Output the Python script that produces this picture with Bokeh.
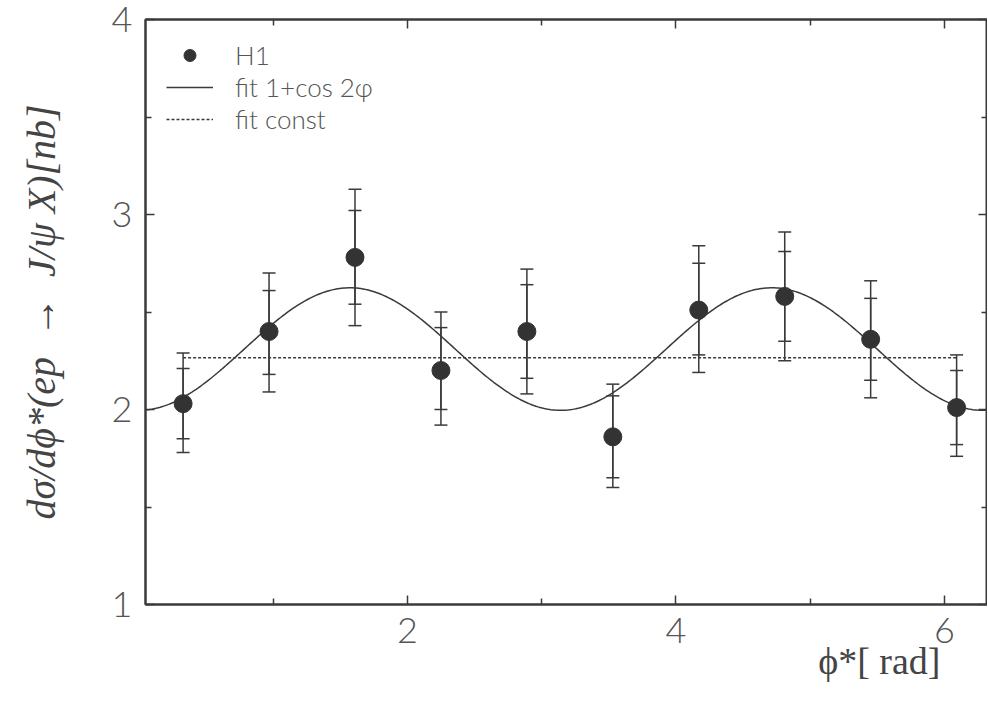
import numpy as np
from bokeh.plotting import figure
from bokeh.models import (ColumnDataSource, Whisker, TeeHead, FixedTicker, LinearAxis,
                          Title, Legend, LegendItem, Range1d, CustomJSTickFormatter)
from bokeh.embed import file_html
from bokeh.resources import INLINE

# ---- data ----
phi = [0.33, 0.97, 1.61, 2.25, 2.89, 3.53, 4.17, 4.81, 5.45, 6.09]
xsec = [2.03, 2.40, 2.78, 2.20, 2.40, 1.86, 2.51, 2.58, 2.36, 2.01]
stat_hi = [2.21, 2.61, 3.02, 2.42, 2.64, 2.07, 2.75, 2.81, 2.57, 2.20]
stat_lo = [1.85, 2.18, 2.54, 2.00, 2.16, 1.65, 2.28, 2.35, 2.15, 1.82]
tot_hi = [2.29, 2.70, 3.13, 2.50, 2.72, 2.13, 2.84, 2.91, 2.66, 2.28]
tot_lo = [1.78, 2.09, 2.43, 1.92, 2.08, 1.60, 2.19, 2.25, 2.06, 1.76]

# fit parameters: A * (1 + B cos 2phi) and a constant
fit_norm = 2.31
fit_b = -0.136
fit_const = 2.265

x_major = [2, 4, 6]
x_minor = [1, 3, 5]
y_major = [1, 2, 3, 4]
y_minor = [1.5, 2.5, 3.5]

INK = "#3a3a3a"
TXT = "#555555"
SANS = "Lato Light, Lato, sans-serif"
SERIF = "Liberation Serif"

H_BOTTOM = 96

p = figure(frame_width=842, frame_height=585,
           x_range=Range1d(0.05, 6.32), y_range=Range1d(1, 4),
           output_backend="svg", toolbar_location=None,
           min_border_left=145, min_border_top=19, min_border_bottom=H_BOTTOM,
           min_border_right=0, x_axis_location=None, y_axis_location=None)
p.grid.visible = False
p.outline_line_color = INK
p.outline_line_width = 2
p.background_fill_color = "white"
p.border_fill_color = "white"

empty = CustomJSTickFormatter(code="return ''")

def style_axis(ax, major, minor, labels=True):
    ax.ticker = FixedTicker(ticks=major, minor_ticks=minor)
    ax.axis_line_color = INK
    ax.axis_line_width = 2
    ax.major_tick_in = 9
    ax.major_tick_out = 0
    ax.minor_tick_in = 6
    ax.minor_tick_out = 0
    ax.major_tick_line_color = INK
    ax.minor_tick_line_color = INK
    ax.major_tick_line_width = 1.5
    ax.minor_tick_line_width = 1.5
    if labels:
        ax.major_label_text_font = SANS
        ax.major_label_text_font_size = "36px"
        ax.major_label_text_color = TXT
        ax.major_label_standoff = 13
    else:
        ax.formatter = empty
        ax.major_label_standoff = 0
        ax.major_label_text_font_size = "1px"

xb = LinearAxis(); style_axis(xb, x_major, x_minor); p.add_layout(xb, "below")
xt = LinearAxis(); style_axis(xt, x_major, x_minor, False); p.add_layout(xt, "above")
yl = LinearAxis(); style_axis(yl, y_major, y_minor)
yl.axis_label = "dσ/dϕ*(ep\u2002→\u2002J/ψ X)[nb]"
yl.axis_label_text_font = SERIF
yl.axis_label_text_font_style = "italic"
yl.axis_label_text_font_size = "40px"
yl.axis_label_text_color = "#444444"
yl.axis_label_standoff = 45
p.add_layout(yl, "left")
yr = LinearAxis(); style_axis(yr, y_major, y_minor, False); p.add_layout(yr, "right")

src = ColumnDataSource(dict(x=phi, y=xsec, shi=stat_hi, slo=stat_lo, thi=tot_hi, tlo=tot_lo))

for up, lo in (("thi", "tlo"), ("shi", "slo")):
    w = Whisker(source=src, base="x", upper=up, lower=lo, dimension="height",
                line_color=INK, line_width=1.5,
                upper_head=TeeHead(size=13, line_color=INK, line_width=1.5),
                lower_head=TeeHead(size=13, line_color=INK, line_width=1.5))
    p.add_layout(w)

xf = np.linspace(0.05, 6.32, 400)
yf = fit_norm * (1 + fit_b * np.cos(2 * xf))
r_fit = p.line(xf, yf, line_color=INK, line_width=1.5)
r_const = p.line([phi[0], phi[-1]], [fit_const, fit_const], line_color=INK,
                 line_width=1.5, line_dash="3 2")
r_pts = p.scatter("x", "y", source=src, size=18, color="#333333")

legend = Legend(items=[LegendItem(label="H1", renderers=[r_pts]),
                       LegendItem(label="fit 1+cos 2φ", renderers=[r_fit]),
                       LegendItem(label="fit const", renderers=[r_const])],
                location=(21, 469), padding=0, margin=0, spacing=0,
                label_height=30, glyph_height=30, glyph_width=47, label_standoff=22,
                label_text_font=SANS, label_text_font_size="26px", label_text_color=TXT,
                border_line_color=None, background_fill_alpha=0)
p.add_layout(legend)

# x-axis title as a Title object in the bottom panel, right aligned
tx = Title(text="ϕ*[ rad]", align="right", offset=47, vertical_align="top",
           standoff=-12, text_font=SERIF, text_font_style="normal", text_font_size="38px",
           text_color="#444444")
p.add_layout(tx, "below")

open("out.html", "w").write(file_html(p, INLINE))
